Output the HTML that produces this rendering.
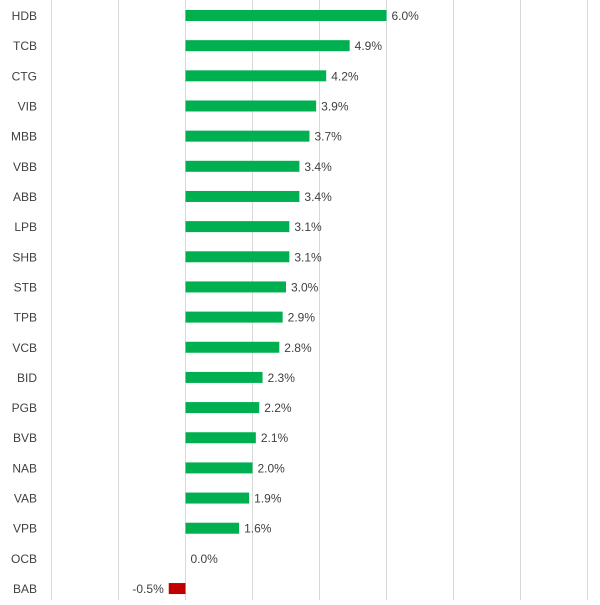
<!DOCTYPE html>
<html><head><meta charset="utf-8"><style>
html,body{margin:0;padding:0;background:#fff;}
svg text{font-family:"Liberation Sans",sans-serif;font-size:12px;fill:#404040;}
</style></head><body>
<svg id="chart" width="600" height="600" xmlns="http://www.w3.org/2000/svg"></svg>
<script>
const categories=["HDB","TCB","CTG","VIB","MBB","VBB","ABB","LPB","SHB","STB","TPB","VCB","BID","PGB","BVB","NAB","VAB","VPB","OCB","BAB"];
const values=[6.0,4.9,4.2,3.9,3.7,3.4,3.4,3.1,3.1,3.0,2.9,2.8,2.3,2.2,2.1,2.0,1.9,1.6,0.0,-0.5];
const gridTicks=[-4,-2,0,2,4,6,8,10,12];
const NS="http://www.w3.org/2000/svg";
const svg=document.getElementById('chart');
const x=v=>185.5+v*33.5;
const y=i=>15.5+i*30.16;
function mk(tag,attrs){const e=document.createElementNS(NS,tag);for(const k in attrs)e.setAttribute(k,attrs[k]);svg.appendChild(e);return e;}
gridTicks.forEach(t=>{
  const l=mk('line',{x1:x(t),x2:x(t),y1:0,y2:600,stroke:'#d9d9d9','stroke-width':1});
  
  
});
categories.forEach((c,i)=>{
  const v=values[i];
  const lab=mk('text',{x:37,y:y(i)+4.5,'text-anchor':'end'});
  lab.textContent=c;
  
  
  if(v!==0){
    const r=mk('rect',{x:Math.min(x(0),x(v)),y:y(i)-5.5,width:Math.abs(x(v)-x(0)),height:11,fill:v>0?'#00b050':'#c00000'});
    
    
  }
  const txt=v.toFixed(1)+'%';
  const vl=mk('text',{x:v<0?x(v)-5:x(v)+5,y:y(i)+4.5,'text-anchor':v<0?'end':'start'});
  vl.textContent=txt;
  
  
});
</script>
</body></html>
